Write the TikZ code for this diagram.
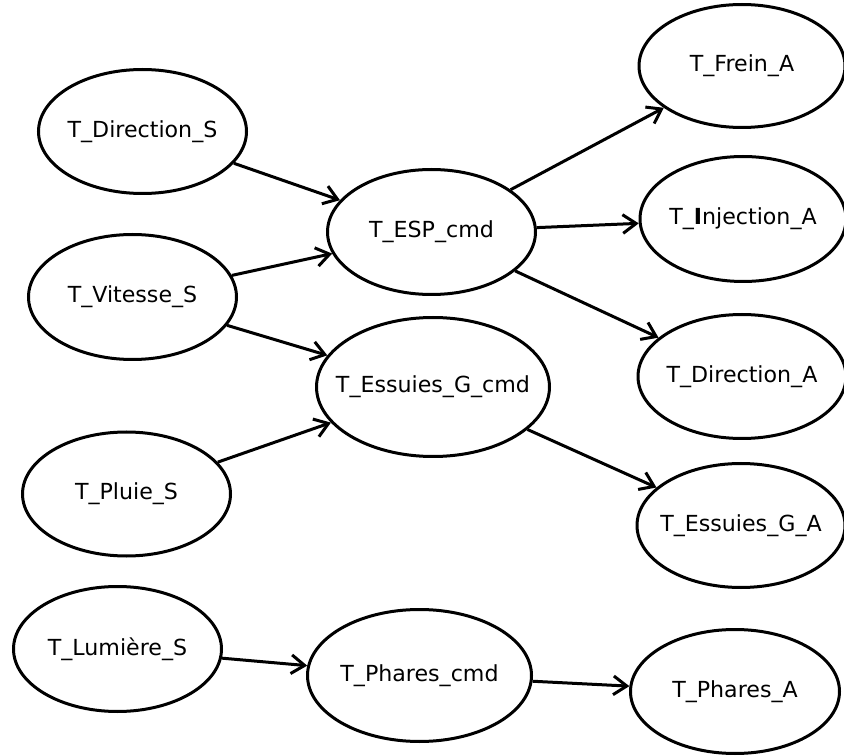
\documentclass[tikz,border=0pt]{standalone}
\usepackage{fontspec}
\setmainfont{DejaVu Sans}
\usetikzlibrary{shapes.geometric,arrows.meta}

% the ellipse keeps its given size; the caption sits on top as a centred label
\tikzset{
  state/.style={ellipse, draw=black, line width=2.25pt, fill=white, inner sep=0pt,
                label={[font=\fontsize{16.6pt}{19pt}\selectfont]center:#1}},
  flow/.style={draw=black, line width=2.25pt,
               -{Straight Barb[length=10pt,width=14pt,line width=2.25pt]}}
}

\begin{document}
\begin{tikzpicture}[x=0.75pt,y=-0.75pt]
\useasboundingbox (0,0) rectangle (844,756);

% sensors
\node[state={T\_Direction\_S}, minimum width=156pt, minimum height=93pt]    (dirS)   at (142.5,131.5) {};
\node[state={T\_Vitesse\_S},   minimum width=156pt, minimum height=93.75pt] (vitS)   at (132.5,297)   {};
\node[state={T\_Pluie\_S},     minimum width=156pt, minimum height=93pt]    (pluieS) at (126.5,494)   {};
\node[state={T\_Lumière\_S},   minimum width=156pt, minimum height=93.75pt] (lumS)   at (117.5,649)   {};

% controllers
\node[state={T\_ESP\_cmd},        minimum width=156pt,    minimum height=93.75pt]  (esp)     at (431.5,232)   {};
\node[state={T\_Essuies\_G\_cmd}, minimum width=174.75pt, minimum height=104.25pt] (essCmd)  at (433,387)     {};
\node[state={T\_Phares\_cmd},     minimum width=168pt,    minimum height=99pt]     (pharCmd) at (419.5,675.5) {};

% actuators
\node[state={T\_Frein\_A},                 minimum width=154.5pt,  minimum height=92.25pt] (freinA) at (742,66)    {};
\node[state={T\_{\bfseries I}njection\_A}, minimum width=154.5pt,  minimum height=93.75pt] (injA)   at (743,219)   {};
\node[state={T\_Direction\_A},             minimum width=156pt,    minimum height=93pt]    (dirA)   at (742,376.5) {};
\node[state={T\_Essuies\_G\_A},            minimum width=156pt,    minimum height=93pt]    (essA)   at (741,525.5) {};
\node[state={T\_Phares\_A},                minimum width=156.75pt, minimum height=93pt]    (pharA)  at (735,691.5) {};

% data flow
\draw[flow] (dirS) -- (esp);
\draw[flow] (vitS) -- (esp);
\draw[flow] (vitS) -- (essCmd);
\draw[flow] (pluieS) -- (essCmd);
\draw[flow] (esp) -- (freinA);
\draw[flow] (esp) -- (injA);
\draw[flow] (esp) -- (dirA);
\draw[flow] (essCmd) -- (essA);
\draw[flow] (lumS) -- (pharCmd);
\draw[flow] (pharCmd) -- (pharA);
\end{tikzpicture}
\end{document}
